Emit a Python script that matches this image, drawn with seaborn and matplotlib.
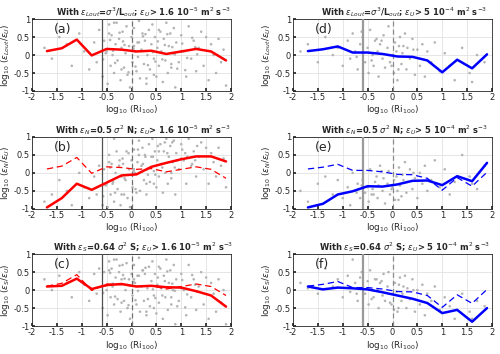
import numpy as np
import pandas as pd
import matplotlib
matplotlib.use("Agg")
import matplotlib.pyplot as plt
import seaborn as sns

sns.set_theme(style="whitegrid")
plt.rcParams['font.family'] = ['DejaVu Sans']
plt.rcParams['mathtext.fontset'] = 'dejavusans'

# ---- bin centres (log10 Ri100) ----
bins = [-1.7, -1.4, -1.1, -0.8, -0.5, -0.2, 0.1, 0.4, 0.7, 1.0, 1.3, 1.6, 1.9]

# ---- binned lines ----
a_lout = [0.11, 0.19, 0.43, -0.01, 0.17, 0.15, 0.10, 0.12, 0.03, 0.10, 0.17, 0.10, -0.15]
b_n = [-0.96, -0.70, -0.30, -0.47, -0.27, -0.07, -0.04, 0.17, 0.28, 0.38, 0.46, 0.46, 0.32]
c_s = [0.10, 0.12, 0.32, 0.03, 0.14, 0.17, 0.10, 0.12, 0.08, 0.07, -0.03, -0.15, -0.46]
d_lout = [0.11, 0.16, 0.24, 0.07, 0.07, 0.03, -0.04, -0.05, -0.15, -0.48, -0.13, -0.37, 0.02]
e_n = [-0.96, -0.86, -0.60, -0.51, -0.37, -0.38, -0.32, -0.22, -0.21, -0.34, -0.09, -0.23, 0.28]
f_s = [0.10, 0.02, 0.07, 0.05, 0.02, -0.06, -0.15, -0.24, -0.36, -0.64, -0.55, -0.88, -0.50]

# ---- scatter points (left column, eps_U > 1.6e-5) ----
xl = [-1.75,-1.6,-1.45,-1.3,-1.2,-1.05,-0.95,-0.85,-0.75,-0.7,
      -0.65,-0.58,-0.55,-0.5,-0.48,-0.45,-0.42,-0.4,-0.38,-0.35,
      -0.32,-0.3,-0.28,-0.25,-0.22,-0.2,-0.18,-0.15,-0.12,-0.1,
      -0.08,-0.05,-0.03,0.0,0.02,0.05,0.07,0.1,0.12,0.15,
      0.17,0.2,0.22,0.25,0.27,0.3,0.32,0.35,0.37,0.4,
      0.42,0.45,0.47,0.5,0.52,0.55,0.58,0.6,0.63,0.65,
      0.68,0.7,0.73,0.75,0.78,0.8,0.83,0.85,0.88,0.9,
      0.95,1.0,1.05,1.1,1.15,1.2,1.25,1.3,1.35,1.4,
      1.45,1.5,1.55,1.6,1.65,1.7,1.75,1.8,1.85,1.9,
      -0.45,-0.2,0.05,0.3,0.55,0.8,-0.35,0.15,0.45,1.0,
      -0.52,-0.43,-0.33,-0.24,-0.14,-0.06,0.04,0.13,0.23,0.33,
      0.43,0.53,0.62,0.72,0.82,0.92,1.02,1.12,1.22,1.32,
      -0.57,-0.37,-0.17,0.08,0.28,0.48,0.67,0.87,1.08,1.28]
ya = [0.2,-0.1,0.5,0.3,-0.3,0.6,0.1,-0.4,0.35,-0.2,
      0.7,-0.6,0.4,0.1,-0.8,0.85,-0.3,0.55,0.0,-0.5,
      0.3,0.9,-0.15,0.45,-0.7,0.2,0.65,-0.35,0.05,0.8,
      -0.55,0.25,-0.9,0.5,-0.2,0.75,0.1,-0.45,0.35,0.95,
      -0.65,0.15,0.6,-0.25,0.4,-0.8,0.0,0.7,-0.4,0.3,
      0.85,-0.1,0.5,-0.6,0.2,-0.3,0.65,0.1,-0.75,0.45,
      -0.15,0.9,-0.5,0.25,0.6,-0.35,0.05,0.75,-0.9,0.35,
      -0.2,0.55,0.1,-0.6,0.8,-0.1,0.4,-0.45,0.2,0.65,
      -0.3,0.5,-0.7,0.3,0.0,-0.5,0.45,-0.2,0.15,-0.85,
      0.6,-0.4,0.25,-0.65,0.7,-0.25,0.9,0.35,-0.55,0.1,
      0.05,0.42,-0.22,0.62,0.28,-0.48,0.18,-0.05,0.52,-0.28,
      0.08,0.38,-0.12,0.58,0.22,-0.38,0.32,-0.08,0.48,0.02,
      -0.12,0.12,0.38,-0.32,0.58,-0.18,0.28,0.02,-0.42,0.22]
yb = [-0.8,-0.6,-0.2,-0.5,-0.9,0.0,-0.4,-0.7,-0.1,-0.6,
      0.2,-0.9,0.1,-0.3,-0.95,0.5,-0.6,0.25,-0.3,-0.8,
      0.0,0.6,-0.45,0.2,-0.9,-0.1,0.4,-0.6,-0.2,0.6,
      -0.7,0.1,-0.95,0.35,-0.4,0.65,0.0,-0.55,0.3,0.9,
      -0.5,0.2,0.7,-0.2,0.5,-0.6,0.1,0.8,-0.25,0.45,
      0.95,0.05,0.6,-0.4,0.35,-0.1,0.8,0.25,-0.55,0.6,
      0.0,0.95,-0.3,0.45,0.75,-0.15,0.3,0.9,-0.6,0.55,
      0.1,0.8,0.35,-0.3,0.95,0.2,0.6,-0.1,0.45,0.85,
      0.1,0.7,-0.3,0.55,0.3,-0.1,0.7,0.2,0.4,-0.4,
      0.3,-0.6,0.1,-0.3,0.6,0.0,0.95,0.5,-0.3,0.4,
      -0.35,0.15,-0.55,0.35,-0.15,0.55,0.05,0.65,0.25,-0.05,
      0.45,0.75,0.15,0.55,0.85,0.35,0.65,0.45,0.25,0.75,
      -0.65,-0.25,0.25,-0.45,0.45,-0.05,0.85,0.15,0.55,0.35]
yc = [0.3,0.0,0.4,0.2,-0.2,0.5,0.15,-0.3,0.45,-0.1,
      0.6,-0.5,0.5,0.0,-0.7,0.8,-0.2,0.6,0.1,-0.4,
      0.35,0.85,-0.25,0.5,-0.6,0.3,0.7,-0.3,0.0,0.75,
      -0.5,0.3,-0.8,0.45,-0.15,0.7,0.2,-0.4,0.4,0.9,
      -0.6,0.1,0.55,-0.3,0.45,-0.7,0.05,0.65,-0.45,0.25,
      0.8,-0.15,0.45,-0.65,0.15,-0.35,0.6,0.05,-0.8,0.4,
      -0.2,0.85,-0.55,0.2,0.55,-0.4,0.0,0.7,-0.95,0.3,
      -0.3,0.45,0.0,-0.7,0.7,-0.2,0.3,-0.55,0.1,0.5,
      -0.4,0.35,-0.8,0.2,-0.1,-0.6,0.3,-0.35,0.0,-0.95,
      0.55,-0.35,0.3,-0.6,0.65,-0.2,0.85,0.4,-0.5,0.05,
      0.12,0.48,-0.18,0.68,0.32,-0.42,0.22,-0.02,0.55,-0.25,
      0.02,0.35,-0.15,0.52,0.18,-0.45,0.28,-0.12,0.42,-0.05,
      -0.08,0.18,0.42,-0.28,0.62,-0.22,0.25,-0.02,-0.48,0.15]

# ---- scatter points (right column, eps_U > 5e-4) ----
xr = [-1.85,-1.7,-1.5,-1.35,-1.2,-1.1,-1.0,-0.9,-0.85,-0.8,
      -0.75,-0.7,-0.65,-0.6,-0.55,-0.5,-0.48,-0.45,-0.4,-0.38,
      -0.35,-0.3,-0.28,-0.25,-0.2,-0.18,-0.15,-0.1,-0.08,-0.05,
      0.0,0.03,0.05,0.08,0.1,0.13,0.15,0.18,0.2,0.25,
      0.28,0.3,0.35,0.4,0.45,0.5,0.55,0.6,0.65,0.7,
      0.78,0.85,0.95,1.05,1.15,1.25,1.4,1.55,1.7,1.85,
      -0.62,-0.42,-0.22,-0.02,0.22,-0.72,-0.32,0.12,0.42,1.6]
yd = [0.1,0.3,-0.2,0.5,0.0,0.2,-0.3,0.4,-0.1,0.6,
      0.1,-0.4,0.3,0.5,-0.2,0.2,-0.5,0.7,0.0,-0.3,
      0.4,0.1,-0.6,0.3,-0.1,0.55,-0.35,0.2,0.8,-0.2,
      0.0,-0.5,0.35,0.1,-0.7,0.25,0.5,-0.25,0.05,0.6,
      -0.4,0.2,-0.1,0.45,-0.55,0.15,-0.3,0.3,-0.6,0.1,
      -0.2,0.35,-0.45,0.05,-0.3,-0.7,0.2,-0.5,0.0,-0.2,
      0.65,-0.15,0.4,-0.3,0.25,-0.05,0.45,-0.4,0.15,-0.75]
ye = [-0.5,-0.8,-0.3,-0.1,-0.6,-0.2,-0.7,-0.4,-0.9,0.0,
      -0.5,-0.3,-0.7,-0.2,-0.55,-0.4,-0.8,0.1,-0.45,-0.6,
      -0.25,-0.7,-0.35,0.2,-0.5,-0.15,-0.85,-0.3,0.05,-0.6,
      -0.4,-0.2,-0.75,-0.1,-0.5,0.15,-0.35,-0.65,-0.05,0.3,
      -0.55,-0.25,0.1,-0.45,-0.15,-0.7,0.0,-0.3,0.2,-0.5,
      -0.2,0.35,-0.4,0.1,-0.6,-0.25,0.5,-0.1,-0.45,0.2,
      -0.35,-0.6,0.05,-0.45,-0.2,-0.55,-0.1,-0.75,0.0,-0.3]
yf = [0.2,0.05,-0.1,0.6,0.1,0.3,-0.2,0.4,-0.05,0.85,
      0.2,-0.3,0.35,0.5,-0.1,0.25,-0.4,0.55,0.0,-0.2,
      0.3,0.0,-0.5,0.2,-0.15,0.45,-0.3,0.1,0.5,-0.35,
      -0.1,-0.55,0.2,-0.05,-0.6,0.15,0.35,-0.3,-0.1,0.4,
      -0.5,0.05,-0.25,0.3,-0.6,0.0,-0.4,0.15,-0.7,-0.1,
      -0.3,0.1,-0.55,-0.2,-0.45,-0.8,-0.1,-0.6,-0.3,-0.45,
      0.5,-0.25,0.25,-0.4,0.1,-0.1,0.3,-0.5,0.0,-0.8]

titles = [
    r"With $\epsilon_{Lout}$=$\sigma^3$/L$_{out}$; $\epsilon_U$> 1.6 10$^{-5}$ m$^2$ s$^{-3}$",
    r"With $\epsilon_N$=0.5 $\sigma^2$ N; $\epsilon_U$> 1.6 10$^{-5}$ m$^2$ s$^{-3}$",
    r"With $\epsilon_S$=0.64 $\sigma^2$ S; $\epsilon_U$> 1.6 10$^{-5}$ m$^2$ s$^{-3}$",
    r"With $\epsilon_{Lout}$=$\sigma^3$/L$_{out}$; $\epsilon_U$> 5 10$^{-4}$ m$^2$ s$^{-3}$",
    r"With $\epsilon_N$=0.5 $\sigma^2$ N; $\epsilon_U$> 5 10$^{-4}$ m$^2$ s$^{-3}$",
    r"With $\epsilon_S$=0.64 $\sigma^2$ S; $\epsilon_U$> 5 10$^{-4}$ m$^2$ s$^{-3}$",
]
ylabels = [r"log$_{10}$ ($\epsilon_{Lout}$/$\epsilon_U$)",
           r"log$_{10}$ ($\epsilon_N$/$\epsilon_U$)",
           r"log$_{10}$ ($\epsilon_S$/$\epsilon_U$)"] * 2
letters = ["(a)", "(b)", "(c)", "(d)", "(e)", "(f)"]

panels = [
    (xl, ya, a_lout, None, "#ff0000"),
    (xl, yb, b_n, a_lout, "#ff0000"),
    (xl, yc, c_s, a_lout, "#ff0000"),
    (xr, yd, d_lout, None, "#0000ff"),
    (xr, ye, e_n, d_lout, "#0000ff"),
    (xr, yf, f_s, d_lout, "#0000ff"),
]

fig = plt.figure(figsize=(5.0, 3.54), dpi=100)
lefts = [0.064, 0.586]
bottoms = [0.743, 0.410, 0.079]
w, h = 0.398, 0.203

for i, (sx, sy, solid, dashed, col) in enumerate(panels):
    c, r = divmod(i, 3)
    ax = fig.add_axes([lefts[c], bottoms[r], w, h])
    ax.set_facecolor("white")
    sdf = pd.DataFrame({"x": sx, "y": sy})
    sns.scatterplot(data=sdf, x="x", y="y", ax=ax, s=3.5, color="#b4b4b4",
                    edgecolor="none", linewidth=0, zorder=2)
    if c == 0:
        ax.axvline(-0.6, color="#505050", lw=0.9, zorder=3)
        ax.axvline(0.0, color="#707070", lw=0.9, ls=(0, (4, 2.5)), zorder=3)
    else:
        ax.axvline(-0.6, color="#9a9a9a", lw=1.6, zorder=3)
        ax.axvline(0.0, color="#8a8a8a", lw=0.9, ls=(0, (4, 2.5)), zorder=3)
    if dashed is not None:
        ddf = pd.DataFrame({"x": bins, "y": dashed})
        sns.lineplot(data=ddf, x="x", y="y", ax=ax, color=col, lw=0.9,
                     linestyle=(0, (5, 3)), zorder=4)
    ldf = pd.DataFrame({"x": bins, "y": solid})
    sns.lineplot(data=ldf, x="x", y="y", ax=ax, color=col, lw=1.8, zorder=5)

    ax.set_xlim(-2, 2)
    ax.set_ylim(-1, 1)
    ax.set_xticks([-2, -1.5, -1, -0.5, 0, 0.5, 1, 1.5, 2])
    ax.set_xticklabels(["-2", "-1.5", "-1", "-0.5", "0", "0.5", "1", "1.5", "2"])
    ax.set_yticks([-1, -0.5, 0, 0.5, 1])
    ax.set_yticklabels(["-1", "-0.5", "0", "0.5", "1"])
    ax.tick_params(labelsize=6, pad=1.5, length=2, direction="in",
                   colors="#262626", bottom=True, left=True)
    ax.grid(True, color="#e2e2e2", lw=0.6)
    for sp in ax.spines.values():
        sp.set_color("#262626")
        sp.set_linewidth(0.6)
    ax.set_xlabel(r"log$_{10}$ (Ri$_{100}$)", fontsize=6.3, labelpad=1, color="#262626")
    ax.set_ylabel(ylabels[i], fontsize=6.3, labelpad=1, color="#262626")
    ax.set_title(titles[i], fontsize=6, fontweight="bold", pad=2.5, x=0.56)
    ax.text(-1.57, 0.62, letters[i], fontsize=9, color="#262626", zorder=6)

fig.savefig("out.png", dpi=100)
